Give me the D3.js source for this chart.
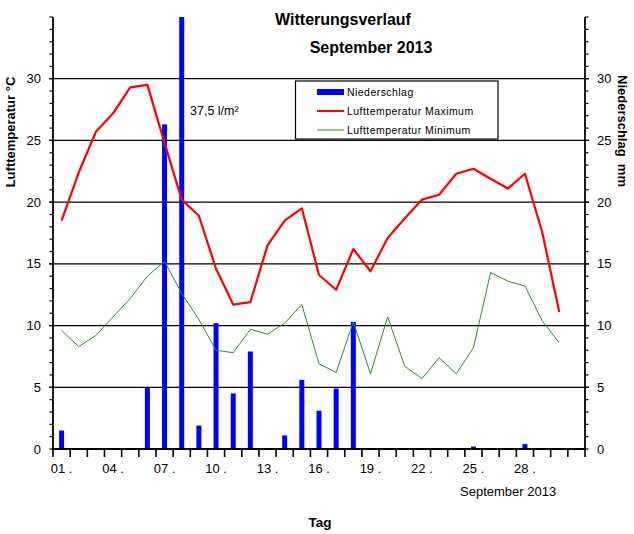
<!DOCTYPE html>
<html><head><meta charset="utf-8">
<script src="https://cdn.jsdelivr.net/npm/d3@7/dist/d3.min.js"></script>
<style>body{margin:0;background:#fff}svg{display:block}text{font-family:"Liberation Sans",Arial,sans-serif}</style>
</head><body>
<svg id="c" width="634" height="534"></svg>
<script>
const days = d3.range(1, 31);
const tempMax = [18.5,22.4,25.7,27.2,29.3,29.5,24.8,20.2,18.9,14.6,11.7,11.9,16.5,18.5,19.5,14.1,12.9,16.2,14.4,17.1,18.7,20.2,20.6,22.3,22.7,21.9,21.1,22.3,17.6,11.1];
const tempMin = [9.6,8.3,9.2,10.7,12.2,14.0,15.2,12.6,10.5,8.0,7.8,9.7,9.3,10.2,11.7,6.9,6.2,10.3,6.1,10.7,6.7,5.7,7.4,6.1,8.2,14.3,13.6,13.2,10.4,8.6];
const precip = [1.5,0,0,0,0,5.0,26.3,37.5,1.9,10.2,4.5,7.9,0,1.1,5.6,3.1,4.9,10.3,0,0,0,0,0,0,0.2,0,0,0.4,0,0];
const yTicks = [0,5,10,15,20,25,30];
const xLabelDays = [1,4,7,10,13,16,19,22,25,28];
const legendLabels = ["Niederschlag","Lufttemperatur Maximum","Lufttemperatur Minimum"];

const svg = d3.select("#c");
const L = 53, R = 585, T = 17, B = 449;
const x = d3.scaleLinear().domain([0.5, 31.5]).range([L, R]);
const y = d3.scaleLinear().domain([0, 35]).range([B, T]);

svg.append("defs").append("clipPath").attr("id","clip")
  .append("rect").attr("x",L).attr("y",T).attr("width",R-L).attr("height",B-T);

// gridlines
svg.append("g").selectAll("line").data(yTicks.filter(d=>d>0)).join("line")
  .attr("x1",L-4).attr("x2",R+4).attr("y1",d=>y(d)).attr("y2",d=>y(d))
  .attr("stroke","#000").attr("stroke-width",1.2);

// bars
svg.append("g").attr("clip-path","url(#clip)").selectAll("rect").data(days.filter((d,i)=>precip[i]>0)).join("rect")
  .attr("x",d=>x(d)-2.5).attr("width",5)
  .attr("y",d=>y(precip[d-1])).attr("height",d=>B-y(precip[d-1]))
  .attr("fill","#0000ff");

// lines
const line = arr => d3.line().x((d,i)=>x(days[i])).y(d=>y(d))(arr);
svg.append("path").attr("d",line(tempMin)).attr("fill","none").attr("stroke","#2e8b2e").attr("stroke-width",1);
svg.append("path").attr("d",line(tempMax)).attr("fill","none").attr("stroke","#ff0000").attr("stroke-width",2.2).attr("stroke-linejoin","round");

// left axis
const minor = d3.range(0, 36);
const la = svg.append("g");
la.append("line").attr("x1",L).attr("x2",L).attr("y1",T).attr("y2",B).attr("stroke","#000").attr("stroke-width",1.8);
la.selectAll(".m").data(minor).join("line").attr("x1",L-3.5).attr("x2",L).attr("y1",d=>y(d)).attr("y2",d=>y(d)).attr("stroke","#000").attr("stroke-width",1.2);
la.selectAll("text").data(yTicks).join("text").attr("x",41).attr("y",d=>y(d)+4.5).attr("text-anchor","end")
  .attr("font-size",13).text(d=>d);
// right axis
const ra = svg.append("g");
ra.append("line").attr("x1",R).attr("x2",R).attr("y1",T).attr("y2",B).attr("stroke","#000").attr("stroke-width",1.8);
ra.selectAll(".m").data(minor).join("line").attr("x1",R).attr("x2",R+3.5).attr("y1",d=>y(d)).attr("y2",d=>y(d)).attr("stroke","#000").attr("stroke-width",1.2);
ra.selectAll("text").data(yTicks).join("text").attr("x",597).attr("y",d=>y(d)+4.5).attr("text-anchor","start")
  .attr("font-size",13).text(d=>d);

// bottom axis
const ba = svg.append("g");
ba.append("line").attr("x1",L-1).attr("x2",R+1).attr("y1",B).attr("y2",B).attr("stroke","#000").attr("stroke-width",2.2);
ba.selectAll(".t").data(d3.range(0.5, 32, 1)).join("line").attr("x1",d=>x(d)).attr("x2",d=>x(d)).attr("y1",B).attr("y2",B+8)
  .attr("stroke","#000").attr("stroke-width",1.6);
ba.selectAll("text").data(xLabelDays).join("text").attr("x",d=>x(d)).attr("y",473).attr("text-anchor","middle")
  .attr("font-size",13).text(d=>String(d).padStart(2,"0")+" .");

// titles
svg.append("text").attr("x",343).attr("y",25).attr("text-anchor","middle").attr("font-size",16).attr("font-weight","bold").text("Witterungsverlauf");
svg.append("text").attr("x",371).attr("y",53).attr("text-anchor","middle").attr("font-size",16).attr("font-weight","bold").text("September 2013");
svg.append("text").attr("x",190).attr("y",115).attr("font-size",12.5).text("37,5 l/m²");
svg.append("text").attr("x",460).attr("y",496).attr("font-size",13).text("September 2013");
svg.append("text").attr("x",320).attr("y",527).attr("text-anchor","middle").attr("font-size",13.5).attr("font-weight","bold").text("Tag");
svg.append("text").attr("transform","translate(15,132) rotate(-90)").attr("text-anchor","middle").attr("font-size",13).attr("font-weight","bold").text("Lufttemperatur °C");
svg.append("text").attr("transform","translate(618,131) rotate(90)").attr("text-anchor","middle").attr("font-size",13).attr("font-weight","bold").style("white-space","pre").text("Niederschlag  mm");

// legend
const lg = svg.append("g");
lg.append("rect").attr("x",295.5).attr("y",81).attr("width",202.5).attr("height",58).attr("fill","#fff").attr("stroke","#000").attr("stroke-width",1.2);
const sw = [{c:"#0000ff",w:6},{c:"#ff0000",w:2},{c:"#2e8b2e",w:1}];
const ly = [92,111,130];
legendLabels.forEach((t,i)=>{
  lg.append("line").attr("x1",317).attr("x2",344).attr("y1",ly[i]).attr("y2",ly[i]).attr("stroke",sw[i].c).attr("stroke-width",sw[i].w);
  lg.append("text").attr("x",347).attr("y",ly[i]+3.8).attr("font-size",10.5).attr("letter-spacing",0.45).text(t);
});
</script>
</body></html>
